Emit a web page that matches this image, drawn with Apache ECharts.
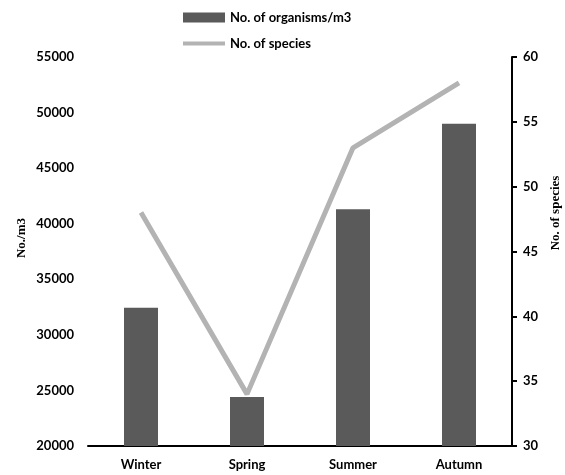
<!DOCTYPE html>
<html>
<head>
<meta charset="utf-8">
<script src="https://cdn.jsdelivr.net/npm/echarts@6/dist/echarts.min.js"></script>
<style>html,body{margin:0;padding:0;background:#fff}#c{width:565px;height:475px}</style>
</head>
<body>
<div id="c"></div>
<script>
var categories = ['Winter', 'Spring', 'Summer', 'Autumn'];
var organisms = [32450, 24400, 41300, 49000];
var species = [48, 34, 53, 58];
var barName = 'No. of organisms/m3';
var lineName = 'No. of species';

var chart = echarts.init(document.getElementById('c'), null, {renderer: 'canvas'});
var font = 'Lato, "Open Sans", sans-serif';
chart.setOption({
  animation: false,
  backgroundColor: '#fff',
  legend: {
    orient: 'vertical',
    left: 178,
    top: 6,
    itemWidth: 42,
    itemHeight: 10,
    itemGap: 13,
    textStyle: {fontFamily: font, fontSize: 13, fontWeight: 'bold', color: '#000'},
    data: [
      {name: barName, icon: 'rect'},
      {name: lineName, icon: 'path://M0,0 L42,0 L42,4 L0,4 Z', itemStyle: {color: '#b3b3b3'}}
    ]
  },
  grid: {left: 88, right: 53, top: 57, bottom: 29, containLabel: false},
  xAxis: {
    type: 'category',
    data: categories,
    axisLine: {show: true, lineStyle: {color: '#000', width: 2}},
    axisTick: {show: false},
    axisLabel: {fontFamily: font, fontSize: 13, fontWeight: 'bold', color: '#000', margin: 12}
  },
  yAxis: [
    {
      type: 'value', min: 20000, max: 55000, interval: 5000,
      axisLine: {show: false}, axisTick: {show: false}, splitLine: {show: false},
      axisLabel: {fontFamily: font, fontSize: 13, fontWeight: 'bold', color: '#000', margin: 14,
        formatter: function (v) { return String(v); }}
    },
    {
      type: 'value', min: 30, max: 60, interval: 5, position: 'right',
      axisLine: {show: true, lineStyle: {color: '#000', width: 2}},
      axisTick: {show: true, inside: false, length: 5, lineStyle: {color: '#000', width: 2}},
      splitLine: {show: false},
      axisLabel: {fontFamily: font, fontSize: 13, fontWeight: 'bold', color: '#000', margin: 11}
    }
  ],
  series: [
    {
      name: barName, type: 'bar', data: organisms, yAxisIndex: 0,
      barWidth: 34, itemStyle: {color: '#5a5a5a'}
    },
    {
      name: lineName, type: 'line', data: species, yAxisIndex: 1,
      symbol: 'none', lineStyle: {color: '#b3b3b3', width: 5}, itemStyle: {color: '#b3b3b3'}
    }
  ],
  graphic: [
    {type: 'text', rotation: Math.PI / 2,
     style: {text: 'No./m3', font: 'bold 13px "Liberation Serif", serif', fill: '#000', align: 'center', verticalAlign: 'middle'},
     x: 22, y: 238},
    {type: 'text', rotation: Math.PI / 2,
     style: {text: 'No. of species', font: 'bold 13px "Liberation Serif", serif', fill: '#000', align: 'center', verticalAlign: 'middle'},
     x: 556, y: 213}
  ]
});
</script>
</body>
</html>
